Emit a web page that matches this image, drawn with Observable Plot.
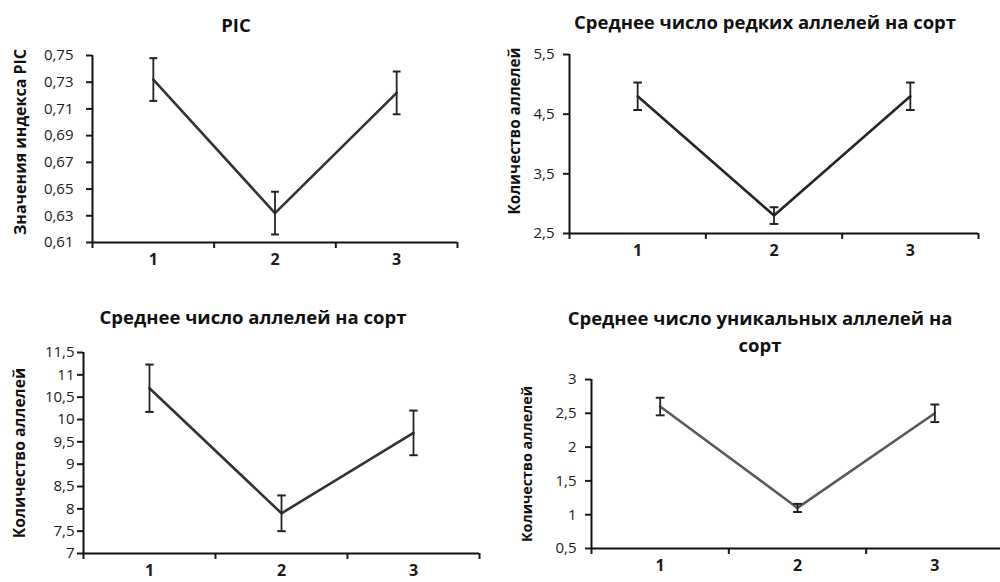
<!DOCTYPE html>
<html>
<head>
<meta charset="utf-8">
<script src="https://cdn.jsdelivr.net/npm/d3@7"></script>
<script src="https://cdn.jsdelivr.net/npm/@observablehq/plot@0.6"></script>
<style>
  html, body { margin: 0; padding: 0; background: #fff; overflow: hidden; }
  #root { position: relative; width: 1000px; height: 582px; font-family: "Open Sans", sans-serif; }
  .panel { position: absolute; }
  .title { position: absolute; text-align: center; font-weight: bold; font-size: 18.5px; color: #111; line-height: 27px; white-space: nowrap; }
</style>
</head>
<body>
<div id="root"></div>
<script>
// ---- data ----
const categories = [1, 2, 3];

const picMean = [0.732, 0.632, 0.722];
const picErr  = [0.016, 0.016, 0.016];
const picTicks = [0.61, 0.63, 0.65, 0.67, 0.69, 0.71, 0.73, 0.75];

const rareMean = [4.8, 2.8, 4.8];
const rareErr  = [0.23, 0.14, 0.23];
const rareTicks = [2.5, 3.5, 4.5, 5.5];

const allMean = [10.7, 7.9, 9.7];
const allErr  = [0.53, 0.4, 0.5];
const allTicks = [7, 7.5, 8, 8.5, 9, 9.5, 10, 10.5, 11, 11.5];

const uniqMean = [2.6, 1.1, 2.5];
const uniqErr  = [0.13, 0.06, 0.13];
const uniqTicks = [0.5, 1, 1.5, 2, 2.5, 3];

const titles = ["PIC", "Среднее число редких аллелей на сорт", "Среднее число аллелей на сорт", "Среднее число уникальных аллелей на<br>сорт"];
const yLabels = ["Значения индекса PIC", "Количество аллелей", "Количество аллелей", "Количество аллелей"];

// ---- drawing ----
const root = document.getElementById("root");

function panel({mean, err, ticks, decimals, label, color, left, top, width, height, mL, mR, mT, mB, labelDx, labelDy, labelSize, pad, title, titleLeft, titleTop, titleWidth}) {
  const data = categories.map((c, i) => ({c, m: mean[i], lo: mean[i] - err[i], hi: mean[i] + err[i]}));
  const bounds = [...categories.map(c => c - 0.5), categories[categories.length - 1] + 0.5];
  const fmt = d => (decimals == null ? String(d) : d.toFixed(decimals)).replace(".", ",");
  const cap = 0.032;
  const svg = Plot.plot({
    width, height,
    marginLeft: mL, marginRight: mR, marginTop: mT, marginBottom: mB,
    x: {domain: [bounds[0], bounds[bounds.length - 1]]},
    y: {domain: [ticks[0], ticks[ticks.length - 1]]},
    style: {fontFamily: "'Open Sans', sans-serif", fontSize: "15px", color: "#1a1a1a", background: "transparent", overflow: "visible"},
    marks: [
      Plot.axisY({ticks, tickFormat: fmt, tickSize: 6, tickPadding: pad, label: null, strokeWidth: 2, fontSize: 15}),
      Plot.axisX({ticks: bounds, tickFormat: () => "", tickSize: 6, strokeWidth: 2, label: null}),
      Plot.axisX({ticks: categories, tickSize: 0, tickPadding: 11, tickFormat: d => String(d), fontWeight: "bold", fontSize: 16, label: null}),
      Plot.ruleY([ticks[0]], {stroke: "#111", strokeWidth: 2}),
      Plot.ruleX([bounds[0]], {stroke: "#111", strokeWidth: 2}),
      Plot.line(data, {x: "c", y: "m", stroke: color, strokeWidth: 2.6}),
      Plot.ruleX(data, {x: "c", y1: "lo", y2: "hi", stroke: "#222", strokeWidth: 1.8}),
      Plot.link(data, {x1: d => d.c - cap, x2: d => d.c + cap, y1: "hi", y2: "hi", stroke: "#222", strokeWidth: 2}),
      Plot.link(data, {x1: d => d.c - cap, x2: d => d.c + cap, y1: "lo", y2: "lo", stroke: "#222", strokeWidth: 2}),
      Plot.text([label], {frameAnchor: "left", textAnchor: "middle", lineAnchor: "middle", rotate: -90, dx: labelDx, dy: labelDy, fontWeight: "bold", fontSize: labelSize, fill: "#111"})
    ]
  });
  svg.classList.add("panel");
  svg.style.left = left + "px";
  svg.style.top = top + "px";
  root.appendChild(svg);
  const t = document.createElement("div");
  t.className = "title";
  t.style.left = titleLeft + "px";
  t.style.top = titleTop + "px";
  t.style.width = titleWidth + "px";
  t.innerHTML = title;
  root.appendChild(t);
}

panel({mean: picMean, err: picErr, ticks: picTicks, decimals: 2, label: yLabels[0], color: "#333",
  left: 0, top: 0, width: 480, height: 280, mL: 92, mR: 23, mT: 55, mB: 38, labelDx: -72, labelDy: -7, labelSize: 16, pad: 13,
  title: titles[0], titleLeft: 136, titleTop: 11, titleWidth: 200});

panel({mean: rareMean, err: rareErr, ticks: rareTicks, decimals: 1, label: yLabels[1], color: "#262626",
  left: 480, top: 0, width: 520, height: 280, mL: 89, mR: 22, mT: 54, mB: 47, labelDx: -54, labelDy: -13, labelSize: 15.3, pad: 9,
  title: titles[1], titleLeft: 565, titleTop: 8, titleWidth: 400});

panel({mean: allMean, err: allErr, ticks: allTicks, decimals: null, label: yLabels[2], color: "#333",
  left: 0, top: 290, width: 480, height: 292, mL: 83, mR: 1, mT: 62, mB: 29, labelDx: -64, labelDy: 0, labelSize: 15.6, pad: 3,
  title: titles[2], titleLeft: 53, titleTop: 303, titleWidth: 400});

panel({mean: uniqMean, err: uniqErr, ticks: uniqTicks, decimals: null, label: yLabels[3], color: "#5a5a5a",
  left: 480, top: 290, width: 523, height: 292, mL: 111, mR: 0, mT: 89, mB: 34, labelDx: -64, labelDy: 0, labelSize: 14.3, pad: 9,
  title: titles[3], titleLeft: 560, titleTop: 304, titleWidth: 400});
</script>
</body>
</html>
